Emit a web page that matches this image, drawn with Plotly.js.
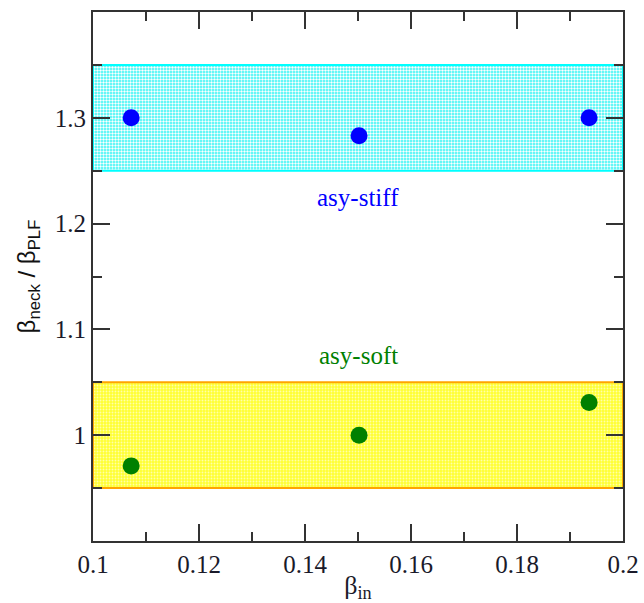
<!DOCTYPE html>
<html>
<head>
<meta charset="utf-8">
<script src="https://cdn.plot.ly/plotly-3.0.1.min.js"></script>
<style>html,body{margin:0;padding:0;background:#fff;}#chart{width:644px;height:603px;}</style>
</head>
<body>
<div id="chart"></div>
<script>
const betaIn = [0.1072, 0.1502, 0.1936];
const stiffValues = [1.300, 1.283, 1.300];
const softValues = [0.971, 1.000, 1.031];
const bandX = [0.1, 0.2];
const stiffBand = [1.25, 1.35];
const softBand = [0.95, 1.05];
const labels = [
  {text: 'asy-stiff', x: 0.15, y: 1.225, color: '#0000ff'},
  {text: 'asy-soft', x: 0.15, y: 1.075, color: '#008000'}
];

function band(lim, line, bg, fg, shape, size, solidity) {
  return {
    x: [bandX[0], bandX[1], bandX[1], bandX[0], bandX[0]],
    y: [lim[0], lim[0], lim[1], lim[1], lim[0]],
    mode: 'lines', fill: 'toself', hoverinfo: 'skip', showlegend: false,
    line: {color: line, width: 2},
    fillcolor: bg,
    fillpattern: {shape: shape, bgcolor: bg, fgcolor: fg, size: size, solidity: solidity}
  };
}

const traces = [
  band(stiffBand, '#00ffff', '#33f5f5', '#ffffff', '.', 3, 0.5),
  band(softBand, '#ffa500', '#ffff33', '#ffffaa', '.', 3, 0.3),
  {x: betaIn, y: stiffValues, mode: 'markers', type: 'scatter', showlegend: false,
   marker: {color: '#0000ff', size: 17}},
  {x: betaIn, y: softValues, mode: 'markers', type: 'scatter', showlegend: false,
   marker: {color: '#008000', size: 17}}
];

const tickFont = {family: 'Liberation Serif, serif', size: 25, color: '#1a1a2a'};
const axisCommon = {
  showgrid: false, zeroline: false, showline: true, linecolor: '#333', linewidth: 2,
  mirror: 'allticks', ticks: 'inside', ticklen: 17, tickwidth: 2, tickcolor: '#333',
  tickfont: tickFont
};

const layout = {
  width: 644, height: 603,
  margin: {l: 93, r: 21, t: 12, b: 62},
  paper_bgcolor: '#fff', plot_bgcolor: '#fff',
  xaxis: Object.assign({}, axisCommon, {
    range: [0.1, 0.2], dtick: 0.02, tick0: 0.1,
    minor: {dtick: 0.01, ticks: 'inside', ticklen: 9, tickwidth: 2, tickcolor: '#333'},
    title: {text: 'β<sub>in</sub>', font: {family: 'Liberation Serif, serif', size: 26, color: '#1a1a2a'}, standoff: 0}
  }),
  yaxis: Object.assign({}, axisCommon, {
    range: [0.9, 1.4], dtick: 0.1, tick0: 0.9,
    tickvals: [1.0, 1.1, 1.2, 1.3], ticktext: ['1', '1.1', '1.2', '1.3'],
    minor: {dtick: 0.05, ticks: 'inside', ticklen: 9, tickwidth: 2, tickcolor: '#333'},
    title: {text: 'β<sub>neck</sub> / β<sub>PLF</sub>', font: {family: 'Liberation Sans, Arial, sans-serif', size: 24, color: '#111'}, standoff: 12}
  }),
  annotations: labels.map(l => ({
    text: l.text, x: l.x, y: l.y, xref: 'x', yref: 'y', showarrow: false,
    font: {family: 'Liberation Serif, serif', size: 25, color: l.color}
  }))
};

Plotly.newPlot('chart', traces, layout, {displayModeBar: false, staticPlot: true});
</script>
</body>
</html>
